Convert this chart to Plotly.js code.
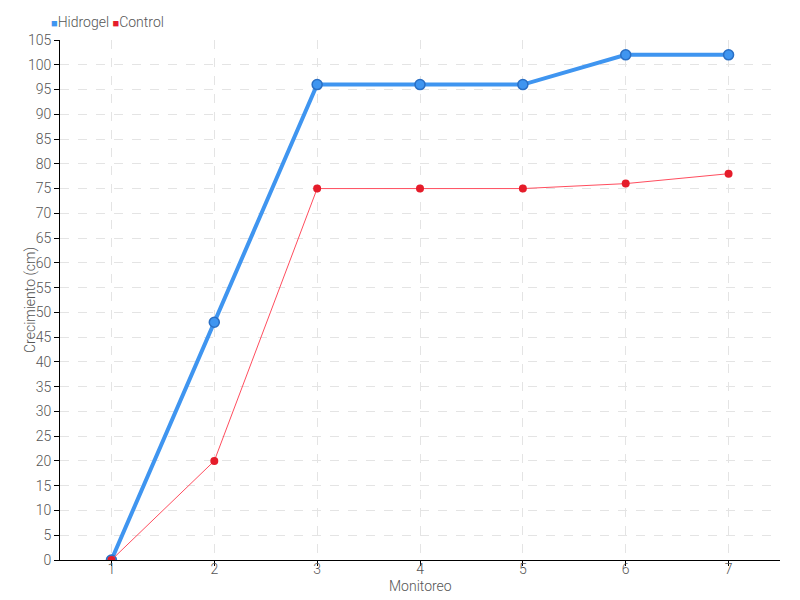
<!DOCTYPE html>
<html><head><meta charset="utf-8">
<script src="https://cdn.plot.ly/plotly-3.0.1.min.js"></script>
<style>body{margin:0}#c{width:800px;height:600px}</style>
</head><body><div id="c"></div>
<script>
const monitoreo = [1, 2, 3, 4, 5, 6, 7];
const hidrogel = [0, 48, 96, 96, 96, 102, 102];
const control = [0, 20, 75, 75, 75, 76, 78];
const yTicks = [0,5,10,15,20,25,30,35,40,45,50,55,60,65,70,75,80,85,90,95,100,105];
const seriesNames = ['Hidrogel', 'Control'];
const seriesColors = ['#3f95f0', '#e51c2a'];

const FONT = "Roboto, sans-serif";
const traces = [
  {x: monitoreo, y: hidrogel, mode: 'lines+markers', name: seriesNames[0],
   line: {color: seriesColors[0], width: 4}, marker: {color: seriesColors[0], size: 10, line: {color: '#2a6fc4', width: 1.5}}},
  {x: monitoreo, y: control, mode: 'lines+markers', name: seriesNames[1],
   line: {color: '#ff4d5e', width: 1}, marker: {color: seriesColors[1], size: 8}}
];
const legendText = seriesNames.map((n, i) =>
  `<span style="color:${seriesColors[i]};font-size:11px">■</span>${n}`).join(' ');
const layout = {
  width: 800, height: 600,
  margin: {l: 60, r: 20, t: 40, b: 40},
  paper_bgcolor: '#fff', plot_bgcolor: '#fff',
  font: {family: FONT, color: '#555', size: 14, weight: 300},
  showlegend: false,
  annotations: [
    {text: legendText, xref: 'paper', yref: 'paper', x: -0.015, y: 1, xanchor: 'left', yanchor: 'bottom',
     yshift: 8, showarrow: false, font: {size: 14, color: '#555', family: FONT, weight: 300}},
    {text: 'Monitoreo', xref: 'paper', yref: 'paper', x: 0.5, y: 0, xanchor: 'center', yanchor: 'middle',
     yshift: -26, showarrow: false, font: {size: 14, color: '#555', family: FONT, weight: 300}},
    {text: 'Crecimiento (cm)', xref: 'paper', yref: 'paper', x: 0, y: 0.5, xanchor: 'center', yanchor: 'middle',
     xshift: -30, textangle: -90, showarrow: false, font: {size: 14, color: '#555', family: FONT, weight: 300}}
  ],
  xaxis: {range: [0.5, 7.5], tickvals: monitoreo, ticktext: monitoreo.map(String),
    showline: true, linecolor: '#000', linewidth: 1, ticks: 'outside', ticklen: 5, tickcolor: '#000',
    ticklabelstandoff: -9,
    showgrid: true, gridcolor: '#e4e4e4', griddash: 'dash', zeroline: false, automargin: false},
  yaxis: {range: [0, 105], tickvals: yTicks, ticktext: yTicks.map(String),
    showline: true, linecolor: '#000', linewidth: 1, ticks: 'outside', ticklen: 5, tickcolor: '#000',
    showgrid: true, gridcolor: '#e4e4e4', griddash: 'dash', zeroline: false, automargin: false}
};
Plotly.newPlot('c', traces, layout, {displayModeBar: false});
</script></body></html>
